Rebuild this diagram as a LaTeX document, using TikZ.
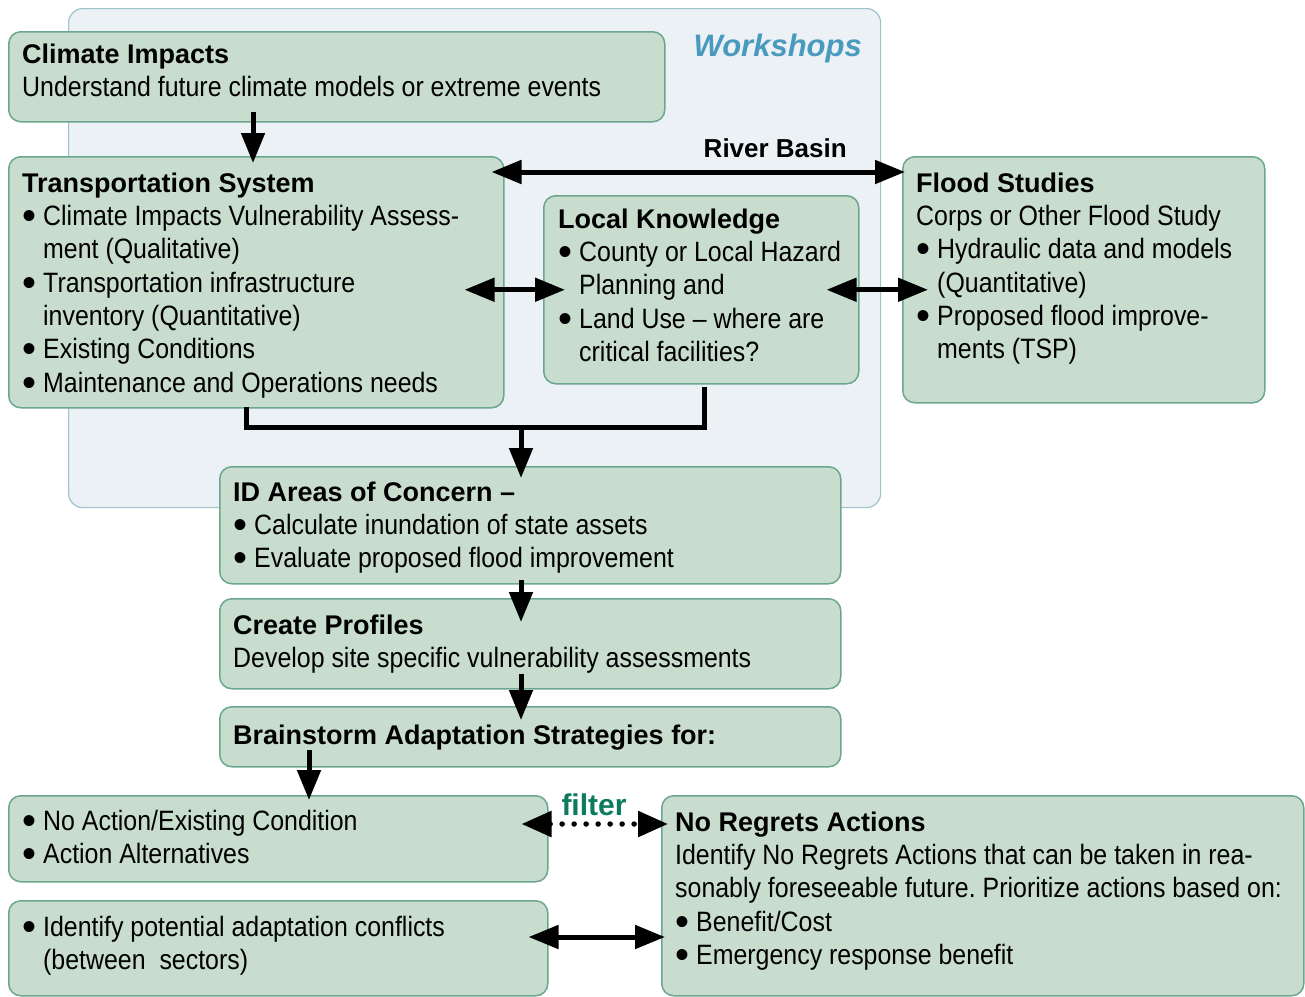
\documentclass[tikz,border=0pt]{standalone}
\usepackage{graphicx}
\usepackage{fontspec}
\setmainfont{Liberation Sans}[FakeStretch=0.89]
\newfontfamily\hdrfont{Liberation Sans}[Ligatures=TeX]
\usetikzlibrary{arrows.meta,calc}
\frenchspacing
\definecolor{boxfill}{HTML}{C9DDCF}
\definecolor{boxline}{HTML}{6BA68F}
\definecolor{wsfill}{HTML}{EBF1F5}
\definecolor{wsline}{HTML}{9DC3CB}
\definecolor{wstext}{HTML}{4A9AC0}
\definecolor{filtgreen}{HTML}{0B7B5C}
\newcommand\hd[1]{{\hdrfont\bfseries\fontsize{27}{33.3}\selectfont #1}}
\newcommand\bu{\makebox[21pt][l]{\smash{\raisebox{-4pt}{\scalebox{1.6}[1.45]{•}}}}}
\newcommand\hi{\hspace*{21pt}}
\tikzset{
  panel/.style={draw=boxline, fill=boxfill, line width=1.5pt, rounded corners=12pt, anchor=north west, inner sep=0pt},
  txt/.style={anchor=north west, inner sep=0pt, align=left, font=\fontsize{28}{33.3}\selectfont},
  arr/.style={line width=5pt, -{Triangle[length=30pt,width=23pt]}},
  darr/.style={line width=5pt, {Triangle[length=30pt,width=23pt]}-{Triangle[length=30pt,width=23pt]}},
  plain/.style={line width=5pt},
  dotarr/.style={line width=5.5pt, line cap=round, dash pattern=on 0pt off 12pt, {Triangle[length=30pt,width=25pt]}-{Triangle[length=30pt,width=25pt]}}
}
\begin{document}
\begin{tikzpicture}[x=1pt,y=-1pt]
\useasboundingbox (0,0) rectangle (1305,996);
% workshops background
\node[draw=wsline, fill=wsfill, line width=1.2pt, rounded corners=14pt, anchor=north west, inner sep=0pt, minimum width=812pt, minimum height=499pt] (ws) at (68,8) {};
\node[anchor=base east, inner sep=0pt, text=wstext, font=\hdrfont\bfseries\itshape\fontsize{31}{36}\selectfont] (wslabel) at (862,56) {Workshops};
% boxes
\node[panel, minimum width=656pt, minimum height=90pt] (ci) at (8,31) {};
\node[panel, minimum width=495pt, minimum height=251pt] (ts) at (8,156) {};
\node[panel, minimum width=315pt, minimum height=188pt] (lk) at (543,195) {};
\node[panel, minimum width=362pt, minimum height=246pt] (fs) at (902,156) {};
\node[panel, minimum width=621pt, minimum height=117pt] (ia) at (219,466) {};
\node[panel, minimum width=621pt, minimum height=90pt] (cp) at (219,598) {};
\node[panel, minimum width=621pt, minimum height=60pt] (bs) at (219,706) {};
\node[panel, minimum width=539pt, minimum height=86pt] (na) at (8,795) {};
\node[panel, minimum width=539pt, minimum height=95pt] (ic) at (8,900) {};
\node[panel, minimum width=642pt, minimum height=200pt] (nr) at (661,795) {};
% texts
\node[txt] (ciT) at (22,39.7) {\strut\hd{Climate Impacts}\\Understand future climate models or extreme events};
\node[txt] (tsT) at (22,168.7) {\strut\hd{Transportation System}\\
\bu Climate Impacts Vulnerability Assess-\\
\hi ment (Qualitative)\\
\bu Transportation infrastructure\\
\hi inventory (Quantitative)\\
\bu Existing Conditions\\
\bu Maintenance and Operations needs};
\node[txt] (lkT) at (558,204.7) {\strut\hd{Local Knowledge}\\
\bu County or Local Hazard\\
\hi Planning and\\
\bu Land Use – where are\\
\hi critical facilities?};
\node[txt] (fsT) at (916,168.7) {\strut\hd{Flood Studies}\\
Corps or Other Flood Study\\
\bu Hydraulic data and models\\
\hi (Quantitative)\\
\bu Proposed flood improve-\\
\hi ments (TSP)};
\node[txt] (iaT) at (233,477.7) {\strut\hd{ID Areas of Concern –}\\
\bu Calculate inundation of state assets\\
\bu Evaluate proposed flood improvement};
\node[txt] (cpT) at (233,610.7) {\strut\hd{Create Profiles}\\
Develop site specific vulnerability assessments};
\node[txt] (bsT) at (233,720.7) {\strut\hd{Brainstorm Adaptation Strategies for:}};
\node[txt] (naT) at (22,806.7) {\strut\bu No Action/Existing Condition\\
\bu Action Alternatives};
\node[txt] (icT) at (22,912.7) {\strut\bu Identify potential adaptation conflicts\\
\hi (between \ sectors)};
\node[txt] (nrT) at (675,807.7) {\strut\hd{No Regrets Actions}\\
Identify No Regrets Actions that can be taken in rea-\\
sonably foreseeable future. Prioritize actions based on:\\
\bu Benefit/Cost\\
\bu Emergency response benefit};
% labels
\node[anchor=base east, inner sep=0pt, font=\hdrfont\bfseries\fontsize{26}{30}\selectfont] (rb) at (847,157) {River Basin};
\node[anchor=base, inner sep=0pt, text=filtgreen, font=\hdrfont\bfseries\fontsize{30}{34}\selectfont] (filt) at (594,815) {filter};
% connectors
\coordinate (c1) at (253,112);
\draw[arr] (c1) -- ([yshift=-7pt]ts.north -| c1);
\coordinate (rbL) at ([xshift=-13pt,yshift=-16pt]ts.north east);
\draw[darr] (rbL) -- ([xshift=3pt]fs.west |- rbL);
\draw[darr] ([xshift=-40pt]ts.east |- lk.west) -- ([xshift=22pt]lk.west);
\draw[darr] ([xshift=-33pt]lk.east) -- ([xshift=26pt]fs.west |- lk.east);
\coordinate (m1) at (246,427);
\coordinate (m2) at (704,427);
\coordinate (j) at (521,427);
\draw[plain] ([yshift=2pt]ts.south -| m1) -- (m1) -- (m2) -- ([yshift=-2pt]lk.south -| m2);
\draw[arr] (j) -- ([yshift=-12pt]ia.north -| j);
\draw[arr] ([yshift=5pt]ia.south -| j) -- ([yshift=-24pt]cp.north -| j);
\draw[arr] ([yshift=16pt]cp.south -| j) -- ([yshift=-14pt]bs.north -| j);
\coordinate (c2) at (309,750);
\draw[arr] (c2) -- ([yshift=-5pt]na.north -| c2);
\coordinate (fy) at (0,824);
\draw[dotarr] ([xshift=-27pt]na.east |- fy) -- ([xshift=7pt]nr.west |- fy);
\coordinate (cy) at (0,937);
\draw[darr] ([xshift=-20pt]ic.east |- cy) -- ([xshift=4pt]nr.west |- cy);
\end{tikzpicture}
\end{document}
